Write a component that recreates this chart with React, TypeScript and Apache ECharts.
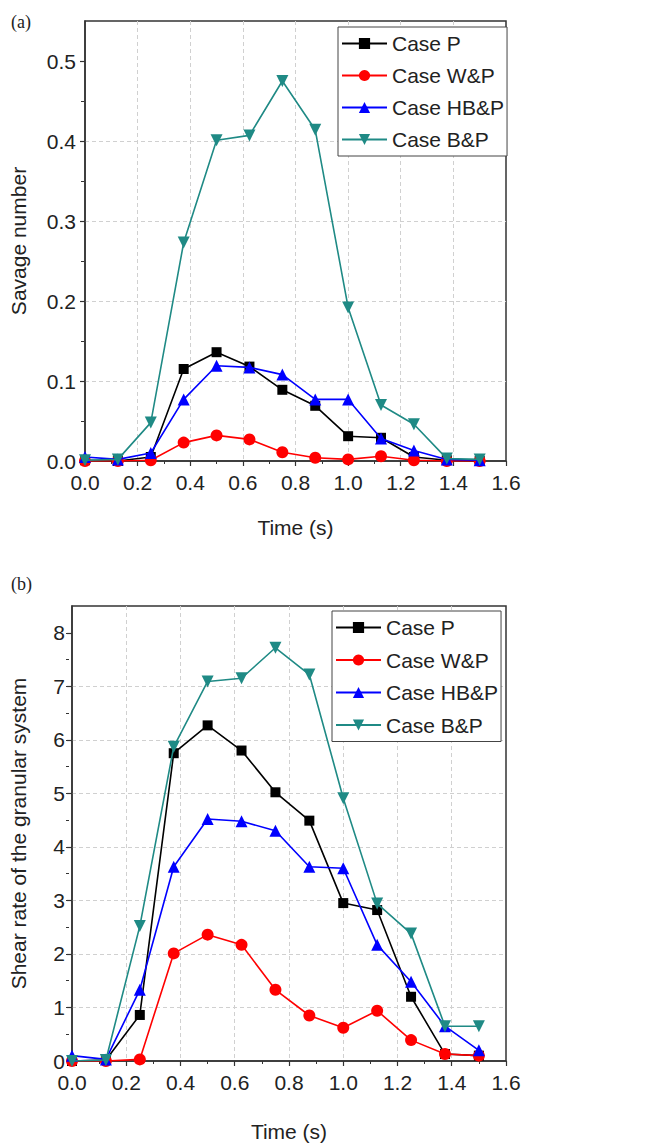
import React, { useEffect, useRef } from "react";
import * as echarts from "echarts";

const times = [0, 0.125, 0.25, 0.375, 0.5, 0.625, 0.75, 0.875, 1.0, 1.125, 1.25, 1.375, 1.5];
const seriesNames = ["Case P", "Case W&P", "Case HB&P", "Case B&P"];
const seriesColors = ["#000000", "#ff0000", "#0000ff", "#1f8a85"];

// (a) Savage number
const savageP = [0.001, 0.0, 0.005, 0.115, 0.136, 0.118, 0.089, 0.069, 0.031, 0.029, 0.005, 0.001, 0.0];
const savageWP = [0.0, 0.0, 0.001, 0.023, 0.032, 0.027, 0.011, 0.004, 0.002, 0.006, 0.001, 0.0, 0.0];
const savageHBP = [0.005, 0.002, 0.01, 0.077, 0.119, 0.117, 0.108, 0.077, 0.077, 0.028, 0.013, 0.002, 0.001];
const savageBP = [0.001, 0.002, 0.048, 0.273, 0.401, 0.407, 0.475, 0.414, 0.192, 0.07, 0.046, 0.003, 0.002];

// (b) Shear rate of the granular system
const shearP = [0.0, 0.02, 0.86, 5.75, 6.27, 5.8, 5.02, 4.49, 2.95, 2.82, 1.2, 0.13, 0.1];
const shearWP = [0.0, 0.0, 0.03, 2.01, 2.36, 2.17, 1.33, 0.85, 0.62, 0.94, 0.39, 0.13, 0.1];
const shearHBP = [0.1, 0.03, 1.33, 3.63, 4.52, 4.48, 4.3, 3.63, 3.6, 2.17, 1.48, 0.65, 0.2];
const shearBP = [0.0, 0.02, 2.52, 5.87, 7.09, 7.15, 7.72, 7.22, 4.91, 2.94, 2.38, 0.65, 0.65];

const yTicksA = [0, 0.1, 0.2, 0.3, 0.4, 0.5];
const yMinorA = [0, 0.05, 0.1, 0.15, 0.2, 0.25, 0.3, 0.35, 0.4, 0.45, 0.5];
const yTicksB = [0, 1, 2, 3, 4, 5, 6, 7, 8];
const yMinorB = [0, 0.5, 1, 1.5, 2, 2.5, 3, 3.5, 4, 4.5, 5, 5.5, 6, 6.5, 7, 7.5, 8];

const FONT = "Liberation Sans";
const symbols = ["rect", "circle", "triangle", "triangle"];
const symbolSizes = [10, 12, 12, 12];
const symbolRotates = [0, 0, 0, 180];

export default function App() {
  const ref = useRef<HTMLDivElement>(null);
  useEffect(() => {
    if (!ref.current) return;
    const chart = echarts.init(ref.current, undefined, { renderer: "svg" });

    const rects = [
      { left: 84, top: 21, width: 422, height: 440 },
      { left: 69, top: 606, width: 437, height: 455 },
    ];

    const grid = [
      ...rects.map((g) => ({ ...g, show: true, borderColor: "#333", borderWidth: 1.5, backgroundColor: "transparent" })),
      ...rects.map((g) => ({ ...g, show: false })),
    ];

    const gridLine = {
      show: true,
      showMinLine: false,
      showMaxLine: false,
      lineStyle: { color: "#d0d0d0", type: [4, 3], width: 1 },
    };

    const xAxis: any[] = [
      ...rects.map((_, i) => ({
        type: "value",
        gridIndex: i,
        position: "bottom",
        min: 0,
        max: 1.6,
        interval: 0.2,
        name: "Time (s)",
        nameLocation: "middle",
        nameGap: i === 0 ? 56 : 60,
        nameTextStyle: { fontFamily: FONT, fontSize: 21, color: "#222" },
        axisLine: { show: true, lineStyle: { color: "#333", width: 1.5 } },
        axisTick: { show: true, length: 5, lineStyle: { color: "#333", width: 1.2 } },
        minorTick: { show: true, splitNumber: 2, length: 3, lineStyle: { color: "#333", width: 1 } },
        axisLabel: {
          fontFamily: FONT,
          fontSize: 21,
          color: "#222",
          margin: 11,
          formatter: (v: number) => v.toFixed(1),
        },
        splitLine: gridLine,
      })),
      ...rects.map((_, i) => ({
        type: "value",
        gridIndex: 2 + i,
        min: 0,
        max: 1.6,
        show: false,
      })),
    ];

    const yAxis: any[] = [
      {
        type: "value",
        gridIndex: 0,
        position: "left",
        min: 0,
        max: 0.55,
        interval: 0.1,
        name: "Savage number",
        nameLocation: "middle",
        nameGap: 56,
        nameTextStyle: { fontFamily: FONT, fontSize: 21, color: "#222" },
        axisLine: { show: true, lineStyle: { color: "#333", width: 1.5 } },
        axisTick: { show: true, length: 5, customValues: yTicksA, lineStyle: { color: "#333", width: 1.2 } },
        axisLabel: {
          fontFamily: FONT,
          fontSize: 21,
          color: "#222",
          margin: 9,
          customValues: yTicksA,
          formatter: (v: number) => v.toFixed(1),
        },
        splitLine: gridLine,
      },
      {
        type: "value",
        gridIndex: 1,
        position: "left",
        min: 0,
        max: 8.5,
        interval: 1,
        name: "Shear rate of the granular system",
        nameLocation: "middle",
        nameGap: 43,
        nameTextStyle: { fontFamily: FONT, fontSize: 21, color: "#222" },
        axisLine: { show: true, lineStyle: { color: "#333", width: 1.5 } },
        axisTick: { show: true, length: 5, customValues: yTicksB, lineStyle: { color: "#333", width: 1.2 } },
        axisLabel: {
          fontFamily: FONT,
          fontSize: 21,
          color: "#222",
          margin: 7,
          customValues: yTicksB,
          formatter: (v: number) => String(Math.round(v)),
        },
        splitLine: gridLine,
      },
      {
        type: "value",
        gridIndex: 2,
        position: "left",
        min: 0,
        max: 0.55,
        interval: 0.05,
        axisLine: { show: false },
        axisTick: { show: true, length: 3, customValues: yMinorA, lineStyle: { color: "#333", width: 1 } },
        axisLabel: { show: false },
        splitLine: { show: false },
      },
      {
        type: "value",
        gridIndex: 3,
        position: "left",
        min: 0,
        max: 8.5,
        interval: 0.5,
        axisLine: { show: false },
        axisTick: { show: true, length: 3, customValues: yMinorB, lineStyle: { color: "#333", width: 1 } },
        axisLabel: { show: false },
        splitLine: { show: false },
      },
    ];

    const dataA = [savageP, savageWP, savageHBP, savageBP];
    const dataB = [shearP, shearWP, shearHBP, shearBP];

    const mk = (arr: number[][], gi: number, yi: number) =>
      arr.map((vals, k) => ({
        name: seriesNames[k],
        type: "line",
        xAxisIndex: gi,
        yAxisIndex: yi,
        data: times.map((t, j) => [t, vals[j]]),
        symbol: symbols[k],
        symbolSize: symbolSizes[k],
        symbolRotate: symbolRotates[k],
        showSymbol: true,
        lineStyle: { color: seriesColors[k], width: 1.6 },
        itemStyle: { color: seriesColors[k] },
        z: 2 + k,
      }));

    const legendCommon = {
      orient: "vertical",
      itemWidth: 45,
      itemHeight: 14,
      itemGap: 11,
      backgroundColor: "#fff",
      borderColor: "#444",
      borderWidth: 1,
      borderRadius: 0,
      padding: [6, 3, 6, 3],
      textStyle: { fontFamily: FONT, fontSize: 21, color: "#222", lineHeight: 21 },
      data: seriesNames,
    };

    chart.setOption({
      animation: false,
      backgroundColor: "#fff",
      title: [
        { text: "(a)", left: 6, top: 8, textStyle: { fontFamily: "Liberation Serif", fontSize: 18, fontWeight: "normal", color: "#222" } },
        { text: "(b)", left: 6, top: 570, textStyle: { fontFamily: "Liberation Serif", fontSize: 18, fontWeight: "normal", color: "#222" } },
      ],
      grid,
      xAxis,
      yAxis,
      legend: [
        { ...legendCommon, left: 338, top: 27 },
        { ...legendCommon, left: 332, top: 611, itemGap: 11.5 },
      ],
      series: [...mk(dataA, 0, 0), ...mk(dataB, 1, 1)],
    });

    return () => chart.dispose();
  }, []);

  return <div ref={ref} style={{ position: "absolute", left: 0, top: 0, width: 672, height: 1147 }} />;
}
